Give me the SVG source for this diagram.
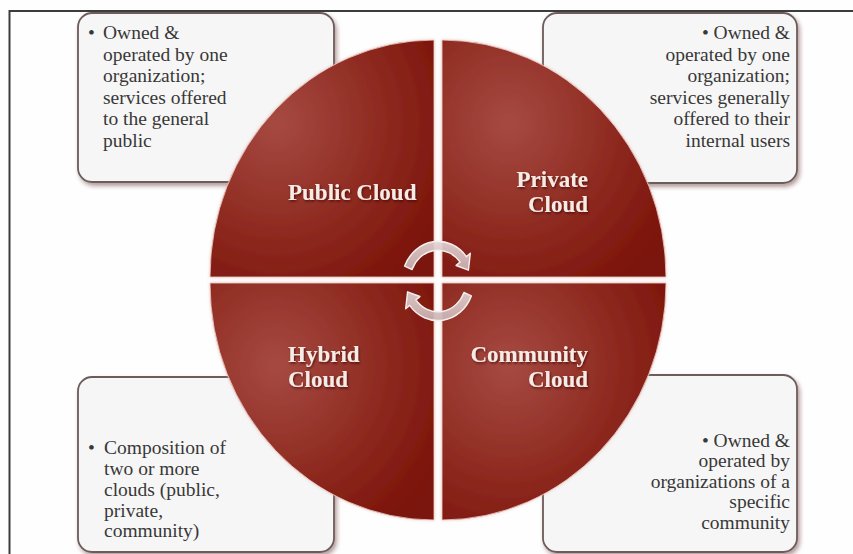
<svg xmlns="http://www.w3.org/2000/svg" width="853" height="554" viewBox="0 0 853 554">
  <defs>
    <filter id="boxShadow" x="-10%" y="-10%" width="125%" height="125%">
      <feDropShadow dx="2" dy="3" stdDeviation="2" flood-color="#5a2626" flood-opacity="0.45"/>
    </filter>
    <filter id="labelShadow" x="-10%" y="-20%" width="125%" height="150%">
      <feDropShadow dx="1" dy="1.5" stdDeviation="1" flood-color="#3a0500" flood-opacity="0.7"/>
    </filter>
    <filter id="glow" x="-10%" y="-10%" width="120%" height="120%">
      <feDropShadow dx="0" dy="0" stdDeviation="1.5" flood-color="#d9a49a" flood-opacity="0.6"/>
    </filter>
    <radialGradient id="segFill" cx="0.3" cy="0.35" r="0.85">
      <stop offset="0" stop-color="#a64a42"/>
      <stop offset="0.55" stop-color="#8e2a20"/>
      <stop offset="1" stop-color="#7a1208"/>
    </radialGradient>
    <linearGradient id="arrowFill" x1="0" y1="0" x2="0" y2="1">
      <stop offset="0" stop-color="#e2d2d2"/>
      <stop offset="1" stop-color="#c9b2b2"/>
    </linearGradient>
  </defs>
  <style>
    .box { fill: #f6f6f6; stroke: #6d5c5c; stroke-width: 1.8; filter: url(#boxShadow); }
    .note { font-family: "Liberation Serif", "Times New Roman", serif; font-size: 19.5px; fill: #383838; }
    .right { text-anchor: end; }
    .seg { fill: url(#segFill); stroke: #f0d2cb; stroke-width: 0.8; filter: url(#glow); }
    .label { font-family: "Liberation Serif", "Times New Roman", serif; font-size: 23px; font-weight: bold; fill: #f7ebe5; filter: url(#labelShadow); }
    .cyc { fill: url(#arrowFill); fill-opacity: 0.92; stroke: #f6eeee; stroke-width: 1.4; stroke-linejoin: round; }
    .frame { fill: none; stroke: #3c3c3c; stroke-width: 2; }
  </style>

  <rect width="853" height="554" fill="#fefefe"/>
  <path class="frame" d="M9.5,554 L9.5,11 L853,11"/>

  <!-- description boxes (behind the circle) -->
  <g id="note-public">
    <rect class="box" x="78" y="13" width="256" height="169" rx="14"/>
    <text class="note"><tspan x="88" y="39">•</tspan><tspan x="103" y="39">Owned &amp;</tspan><tspan x="103" y="60.5">operated by one</tspan><tspan x="103" y="82">organization;</tspan><tspan x="103" y="103.5">services offered</tspan><tspan x="103" y="125">to the general</tspan><tspan x="103" y="146.5">public</tspan></text>
  </g>
  <g id="note-private">
    <rect class="box" x="543" y="13" width="254" height="170" rx="14"/>
    <text class="note right"><tspan x="790" y="39">• Owned &amp;</tspan><tspan x="790" y="60.5">operated by one</tspan><tspan x="790" y="82">organization;</tspan><tspan x="790" y="103.5">services generally</tspan><tspan x="790" y="125">offered to their</tspan><tspan x="790" y="146.5">internal users</tspan></text>
  </g>
  <g id="note-hybrid">
    <rect class="box" x="78" y="377" width="256" height="175" rx="14"/>
    <text class="note"><tspan x="88" y="454">•</tspan><tspan x="104" y="454">Composition of</tspan><tspan x="104" y="475">two or more</tspan><tspan x="104" y="496">clouds (public,</tspan><tspan x="104" y="517">private,</tspan><tspan x="104" y="537">community)</tspan></text>
  </g>
  <g id="note-community">
    <rect class="box" x="543" y="375" width="254" height="177" rx="14"/>
    <text class="note right"><tspan x="790" y="447">• Owned &amp;</tspan><tspan x="790" y="467">operated by</tspan><tspan x="790" y="488">organizations of a</tspan><tspan x="790" y="508">specific</tspan><tspan x="790" y="529">community</tspan></text>
  </g>

  <!-- four quarter segments of the circle -->
  <g id="seg-public">
    <path class="seg" d="M434,277 L210,277 A224,237 0 0 1 434,40 Z"/>
    <text class="label" x="288" y="200">Public Cloud</text>
  </g>
  <g id="seg-private">
    <path class="seg" d="M442,277 L442,40 A224,237 0 0 1 666,277 Z"/>
    <text class="label right"><tspan x="588" y="187">Private</tspan><tspan x="588" y="212">Cloud</tspan></text>
  </g>
  <g id="seg-hybrid">
    <path class="seg" d="M434,283 L434,520 A224,237 0 0 1 210,283 Z"/>
    <text class="label"><tspan x="288" y="362">Hybrid</tspan><tspan x="288" y="387">Cloud</tspan></text>
  </g>
  <g id="seg-community">
    <path class="seg" d="M442,283 L666,283 A224,237 0 0 1 442,520 Z"/>
    <text class="label right"><tspan x="588" y="362">Community</tspan><tspan x="588" y="387">Cloud</tspan></text>
  </g>

  <!-- clockwise cycle arrows in the centre -->
  <g id="connectors" transform="translate(438,281) scale(1,1.1)">
    <path class="cyc" d="M-33.38,-13.49 A36,36 0 0 1 28.37,-22.16 L32.31,-25.24 L30.43,-9.89 L18.12,-14.16 L22.06,-17.24 A28,28 0 0 0 -25.96,-10.49 Z"/>
    <path class="cyc" d="M33.38,13.49 A36,36 0 0 1 -28.37,22.16 L-32.31,25.24 L-30.43,9.89 L-18.12,14.16 L-22.06,17.24 A28,28 0 0 0 25.96,10.49 Z"/>
  </g>
</svg>
